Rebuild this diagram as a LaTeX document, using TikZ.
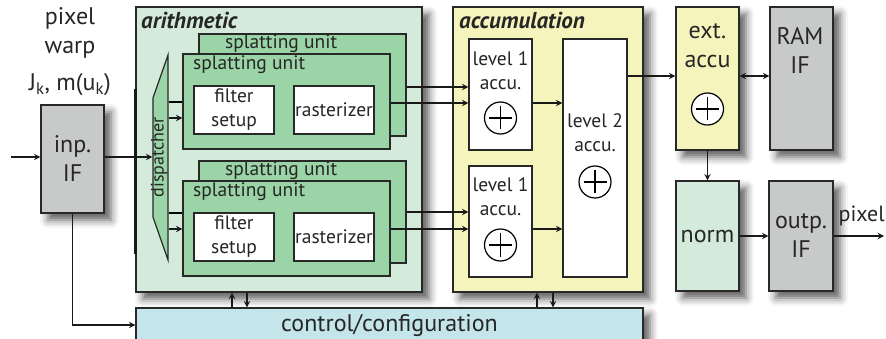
\documentclass[tikz,border=0pt]{standalone}
\usepackage{fontspec}
\setmainfont{PT Sans}
\usetikzlibrary{arrows,shapes.geometric,shadows.blur,positioning}

\definecolor{arithgreen}{RGB}{212,234,218}
\definecolor{unitgreen}{RGB}{155,212,166}
\definecolor{accuyellow}{RGB}{245,244,188}
\definecolor{ifgray}{RGB}{200,201,201}
\definecolor{ctrlblue}{RGB}{196,229,234}
\definecolor{edgegray}{RGB}{40,40,40}

\newcommand{\largetext}{\fontsize{24}{29}\selectfont}
\newcommand{\smalltext}{\fontsize{19.5}{24}\selectfont}

\begin{document}
\begin{tikzpicture}[x=1pt,y=-1pt,>=stealth,
		every node/.style={inner sep=0pt,text=black!85},
		block/.style={draw=edgegray,line width=1.2pt,
			blur shadow={shadow xshift=7pt,shadow yshift=-7pt,shadow blur radius=8pt,shadow opacity=65}},
		if block/.style={block,fill=ifgray},
		arith block/.style={block,fill=arithgreen},
		accu block/.style={block,fill=accuyellow},
		ctrl block/.style={block,fill=ctrlblue},
		unit/.style={draw=edgegray,line width=1.2pt,fill=unitgreen},
		stage/.style={draw=edgegray,line width=1.2pt,fill=white},
		adder/.style={circle,draw=black,line width=1.2pt,fill=white,minimum size=32pt,
			path picture={\draw[line width=1.3pt]
				([xshift=-11.5pt]path picture bounding box.center) -- ([xshift=11.5pt]path picture bounding box.center)
				([yshift=-11.5pt]path picture bounding box.center) -- ([yshift=11.5pt]path picture bounding box.center);}},
		big/.style={font=\largetext,align=center},
		small/.style={font=\smalltext,align=center},
		title/.style={font=\fontsize{23}{26}\selectfont\bfseries\itshape},
		flow/.style={->,line width=1.8pt,draw=black!90},
		bus/.style={line width=3.5pt,draw=black!90}
		]
	\useasboundingbox (0,0) rectangle (886,339);

	% input side
	\node [big] (warp) at (70,52) {pixel\\warp\\[8pt]J\textsubscript{k}, m(u\textsubscript{k})};
	\node [if block, big, minimum width=63, minimum height=108] (inp) at (72.5,159) {inp.\\IF};
	\coordinate (src) at (11,157);

	% big blocks
	\node [arith block, minimum width=286, minimum height=285] (arith) at (279,149.5) {};
	\node [accu block, minimum width=190, minimum height=285] (accum) at (548,149.5) {};
	\node [ctrl block, big, minimum width=507, minimum height=34] (ctrl) at (389.5,325) {control/configuration};
	\node [title, anchor=base west] (arithlbl) at (141,29) {arithmetic};
	\node [title, anchor=base west] (accumlbl) at (459,29) {accumulation};

	% dispatcher
	\node [trapezium, rotate=90, draw=edgegray, line width=1.2pt, fill=unitgreen,
		trapezium left angle=26, trapezium right angle=26, trapezium stretches=true,
		minimum width=205, minimum height=15, text height=10pt, text depth=4pt,
		font=\fontsize{18}{20}\selectfont] (disp) at (160.5,157.5) {dispatcher};

	% splatting units, upper pair
	\node [unit, minimum width=207, minimum height=102] (back1) at (302.5,85) {};
	\node [small, anchor=west] (back1lbl) at (225,44) {splatting unit};
	\node [unit, minimum width=207, minimum height=95] (front1) at (286.5,101.5) {};
	\node [small, anchor=west] (front1lbl) at (193,65) {splatting unit};
	\node [stage, small, minimum width=80, minimum height=48] (filter1) at (234,110) {filter\\setup};
	\node [stage, small, minimum width=80, minimum height=48] (raster1) at (334,110) {rasterizer};

	% splatting units, lower pair
	\node [unit, minimum width=207, minimum height=102] (back2) at (302.5,212) {};
	\node [small, anchor=west] (back2lbl) at (225,171) {splatting unit};
	\node [unit, minimum width=207, minimum height=95] (front2) at (286.5,228.5) {};
	\node [small, anchor=west] (front2lbl) at (193,192) {splatting unit};
	\node [stage, small, minimum width=80, minimum height=48] (filter2) at (234,237) {filter\\setup};
	\node [stage, small, minimum width=80, minimum height=48] (raster2) at (334,237) {rasterizer};

	% accumulation stages
	\node [stage, minimum width=63, minimum height=111] (lev1a) at (500.5,94.5) {};
	\node [small] (lev1atxt) at (500.5,71) {level 1\\accu.};
	\node [adder] (add1a) at (500.5,118) {};
	\node [stage, minimum width=63, minimum height=111] (lev1b) at (500.5,221.5) {};
	\node [small] (lev1btxt) at (500.5,197) {level 1\\accu.};
	\node [adder] (add1b) at (500.5,245) {};
	\node [stage, minimum width=64, minimum height=238] (lev2) at (595,158) {};
	\node [small] (lev2txt) at (595,133) {level 2\\accu.};
	\node [adder] (add2) at (595,182) {};

	% right column
	\node [accu block, minimum width=63, minimum height=143] (ext) at (707.5,78.5) {};
	\node [big] (exttxt) at (707.5,46) {ext.\\accu};
	\node [adder] (addext) at (707.5,109) {};
	\node [if block, minimum width=63, minimum height=143] (ram) at (801.5,78.5) {};
	\node [big] (ramtxt) at (800,50) {RAM\\IF};
	\node [block, fill=arithgreen, big, minimum width=63, minimum height=110] (norm) at (707.5,236) {norm};
	\node [if block, big, minimum width=64, minimum height=110] (outp) at (801,236) {outp.\\IF};
	\coordinate (sink) at (884,236);
	\node [font=\fontsize{22}{26}\selectfont, anchor=east] (pixlbl) at (885,216) {pixel};

	% connections
	\draw [flow] (src) -- (inp.west |- src);
	\draw [bus] (arith.west |- 0,89) -- (arith.west |- 0,254);
	\draw [flow] (inp.east |- src) -- (disp.north |- src);
	\draw [flow] (inp.south) |- (ctrl.west);
	\draw [line width=1.8pt] (disp.south |- 0,102) -- (front1.west |- 0,102);
	\draw [flow] (disp.south |- 0,118) -- (front1.west |- 0,118);
	\draw [line width=1.8pt] (disp.south |- 0,213) -- (front2.west |- 0,213);
	\draw [flow] (disp.south |- 0,229) -- (front2.west |- 0,229);
	\draw [flow] (back1.east |- 0,87) -- (lev1a.west |- 0,87);
	\draw [flow] (front1.east |- 0,103) -- (lev1a.west |- 0,103);
	\draw [flow] (back2.east |- 0,212) -- (lev1b.west |- 0,212);
	\draw [flow] (front2.east |- 0,229) -- (lev1b.west |- 0,229);
	\draw [flow] (lev1a.east |- 0,103) -- (lev2.west |- 0,103);
	\draw [flow] (lev1b.east |- 0,229) -- (lev2.west |- 0,229);
	\draw [flow] (lev2.east |- 0,76) -- (ext.west |- 0,76);
	\draw [flow, <->] (ext.east |- 0,76) -- (ram.west |- 0,76);
	\draw [flow] (ext.south) -- (norm.north);
	\draw [flow] (norm.east) -- (outp.west);
	\draw [flow] (outp.east) -- (sink);
	\draw [flow] (ctrl.north -| 232,0) -- (arith.south -| 232,0);
	\draw [flow] (arith.south -| 247,0) -- (ctrl.north -| 247,0);
	\draw [flow] (ctrl.north -| 537,0) -- (accum.south -| 537,0);
	\draw [flow] (accum.south -| 553,0) -- (ctrl.north -| 553,0);
\end{tikzpicture}
\end{document}
